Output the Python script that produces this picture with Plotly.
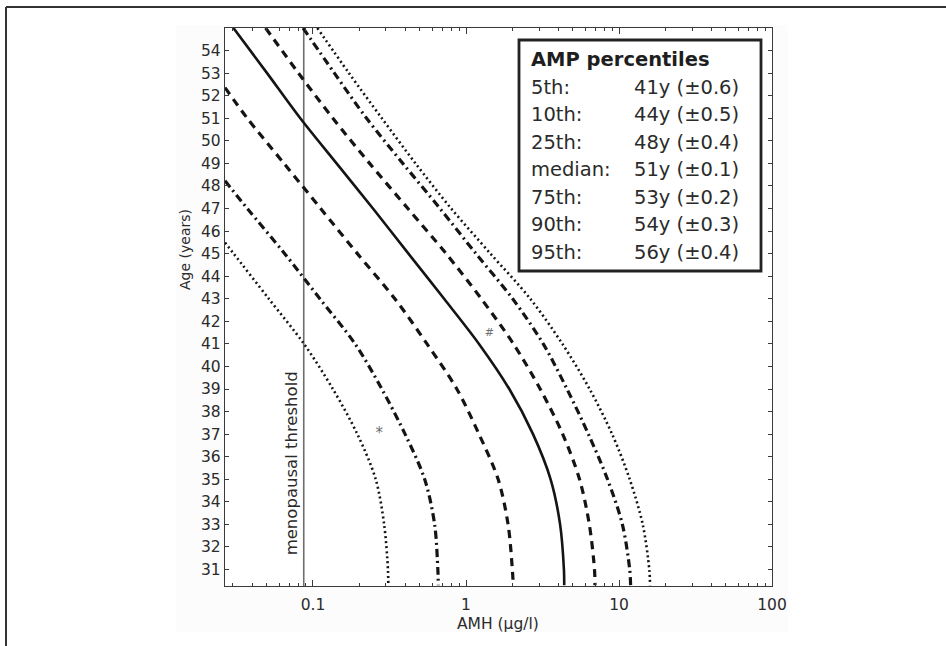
import math
import plotly.graph_objects as go

# ---------------- data ----------------
ages_p5 = [45.49, 45, 43, 41, 39, 37, 35, 33, 31, 30.3]
amh_p5 = [0.0266, 0.0303, 0.0514, 0.0873, 0.1349, 0.195, 0.257, 0.2917, 0.309, 0.3105]

ages_p10 = [48.23, 47, 45, 43, 41, 39, 37, 35, 33, 31, 30.3]
amh_p10 = [0.0266, 0.0372, 0.0653, 0.1109, 0.1884, 0.2818, 0.3999, 0.537, 0.6237, 0.6546, 0.6592]

ages_p25 = [52.36, 51, 49, 47, 45, 43, 41, 39, 37, 35, 33, 31, 30.3]
amh_p25 = [0.0266, 0.0372, 0.0646, 0.1122, 0.195, 0.3428, 0.5559, 0.871, 1.216, 1.622, 1.884, 2.009, 2.037]

ages_p50 = [55, 53, 51, 49, 47, 45, 43, 41, 39, 37, 35, 33, 31, 30.3]
amh_p50 = [0.0302, 0.0501, 0.0826, 0.1426, 0.2466, 0.4207, 0.7194, 1.216, 1.919, 2.742, 3.573, 4.121, 4.365, 4.385]

ages_p75 = [55, 53, 51, 49, 47, 45, 43, 41, 39, 37, 35, 33, 31, 30.3]
amh_p75 = [0.049, 0.0804, 0.1349, 0.2344, 0.4169, 0.7413, 1.259, 2.042, 3.055, 4.285, 5.521, 6.397, 6.918, 6.966]

ages_p90 = [55, 53, 51, 49, 47, 45, 43, 41, 39, 37, 35, 33, 31, 30.3]
amh_p90 = [0.0861, 0.138, 0.2239, 0.3864, 0.6761, 1.161, 2.018, 3.199, 4.571, 6.31, 8.414, 10.52, 11.75, 11.91]

ages_p95 = [55, 53, 51, 49, 47, 45, 43, 41, 39, 37, 35, 33, 31, 30.3]
amh_p95 = [0.1067, 0.1718, 0.2818, 0.4677, 0.7998, 1.445, 2.63, 4.266, 6.427, 9.016, 11.75, 14.29, 15.78, 15.96]

threshold_amh = 0.087
threshold_label = "menopausal threshold"

star_amh = [0.271]
star_age = [37.0]
hash_amh = [1.42]
hash_age = [41.48]

x_tickvals = [0.1, 1, 10, 100]
x_ticktext = ["0.1", "1", "10", "100"]
y_tickvals = list(range(31, 55))

legend_title = "AMP percentiles"
legend_labels = ["5th:", "10th:", "25th:", "median:", "75th:", "90th:", "95th:"]
legend_values = ["41y (\u00b10.6)", "44y (\u00b10.5)", "48y (\u00b10.4)", "51y (\u00b10.1)",
                 "53y (\u00b10.2)", "54y (\u00b10.3)", "56y (\u00b10.4)"]

x_title = "AMH (\u03bcg/l)"
y_title = "Age (years)"

X_RANGE = [0.0266, 100]
Y_RANGE = [30.27, 55.0]

# ---------------- layout geometry (pixels) ----------------
W, H = 946, 646
L, R, T, B = 225, 772, 28, 586
PW, PH = R - L, B - T


def px(x):
    return (x - L) / PW


def py(y):
    return (B - y) / PH


FONT = "DejaVu Sans"
TXT = "#2b2b2b"
INK = "#141414"

DASHED = "8px,6px"
DASHDOT = "8px,4px,2px,4px"
DOTTED = "2px,3px"

curves = [
    (ages_p5, amh_p5, DOTTED, 2.6),
    (ages_p10, amh_p10, DASHDOT, 3.2),
    (ages_p25, amh_p25, DASHED, 3.2),
    (ages_p50, amh_p50, "solid", 2.6),
    (ages_p75, amh_p75, DASHED, 3.2),
    (ages_p90, amh_p90, DASHDOT, 3.2),
    (ages_p95, amh_p95, DOTTED, 2.6),
]

fig = go.Figure()

# threshold line
fig.add_trace(go.Scatter(
    x=[threshold_amh, threshold_amh], y=Y_RANGE, mode="lines",
    line=dict(color="#6e6e6e", width=1.6), hoverinfo="skip"))

for ages, amh, dash, w in curves:
    fig.add_trace(go.Scatter(
        x=amh, y=ages, mode="lines",
        line=dict(color=INK, width=w, dash=dash, shape="spline", smoothing=0.9)))

fig.add_trace(go.Scatter(x=star_amh, y=star_age, mode="text", text=["*"],
                         textfont=dict(family=FONT, size=15, color="#707070")))
fig.add_trace(go.Scatter(x=hash_amh, y=hash_age, mode="text", text=["#"],
                         textfont=dict(family=FONT, size=11, color="#707070")))

axis_common = dict(
    showline=True, linecolor="#3a3a3a", linewidth=1.4, mirror="ticks",
    ticks="inside", tickcolor="#3a3a3a", showgrid=False, zeroline=False,
    tickfont=dict(family=FONT, size=15.5, color=TXT),
)

fig.update_xaxes(type="log", range=[math.log10(X_RANGE[0]), math.log10(X_RANGE[1])],
                 tickvals=x_tickvals, ticktext=x_ticktext, ticklen=6, ticklabelstandoff=4,
                 minor=dict(ticks="inside", ticklen=3, tickcolor="#3a3a3a", dtick="D1", showgrid=False),
                 **axis_common)
fig.update_yaxes(range=Y_RANGE, tickvals=y_tickvals, ticklen=4, **axis_common)

shapes = [
    # subtle off-white panel behind the chart
    dict(type="rect", xref="paper", yref="paper", x0=px(176), x1=px(788), y0=py(632), y1=py(25),
         fillcolor="#fcfcfc", line=dict(width=0), layer="below"),
    dict(type="rect", xref="paper", yref="paper", x0=0, x1=1, y0=0, y1=1,
         fillcolor="white", line=dict(width=0), layer="below"),
    # outer frame (top and left edges)
    dict(type="line", xref="paper", yref="paper", x0=px(6), x1=px(946), y0=py(7), y1=py(7),
         line=dict(color="#333333", width=2)),
    dict(type="line", xref="paper", yref="paper", x0=px(6), x1=px(6), y0=py(7), y1=py(646),
         line=dict(color="#333333", width=2)),
    # legend box
    dict(type="rect", xref="paper", yref="paper", x0=px(519), x1=px(761), y0=py(271), y1=py(40),
         fillcolor="white", line=dict(color="#222222", width=2.8)),
]

annotations = [
    dict(xref="x", yref="y", x=math.log10(threshold_amh), y=31.55, text=threshold_label,
         textangle=-90, xanchor="right", yanchor="bottom", showarrow=False, xshift=-1,
         font=dict(family=FONT, size=16.5, color=TXT)),
    dict(xref="paper", yref="paper", x=px(185), y=py(250), text=y_title, textangle=-90,
         xanchor="center", yanchor="middle", showarrow=False,
         font=dict(family=FONT, size=14, color=TXT)),
    dict(xref="paper", yref="paper", x=px(498), y=py(624), text=x_title,
         xanchor="center", yanchor="middle", showarrow=False,
         font=dict(family=FONT, size=15.5, color=TXT)),
    dict(xref="paper", yref="paper", x=px(529), y=py(60), text="<b>" + legend_title + "</b>",
         xanchor="left", yanchor="middle", showarrow=False,
         font=dict(family=FONT, size=19.5, color="#1e1e1e")),
]
row_y = [87.7, 115.0, 142.5, 170.0, 197.3, 224.7, 252.0]
for lab, val, yy in zip(legend_labels, legend_values, row_y):
    annotations.append(dict(xref="paper", yref="paper", x=px(529), y=py(yy), text=lab,
                            xanchor="left", yanchor="middle", showarrow=False,
                            font=dict(family=FONT, size=19.5, color=TXT)))
    annotations.append(dict(xref="paper", yref="paper", x=px(632), y=py(yy), text=val,
                            xanchor="left", yanchor="middle", showarrow=False,
                            font=dict(family=FONT, size=19.5, color=TXT)))

fig.update_layout(
    width=W, height=H,
    margin=dict(l=L, r=W - R, t=T, b=H - B, pad=0),
    paper_bgcolor="white", plot_bgcolor="rgba(0,0,0,0)",
    showlegend=False, shapes=shapes, annotations=annotations,
    font=dict(family=FONT, color=TXT),
)

fig.write_html("out.html", config={"displayModeBar": False},
               post_script="document.body.style.margin='0';document.body.style.overflow='hidden';")
